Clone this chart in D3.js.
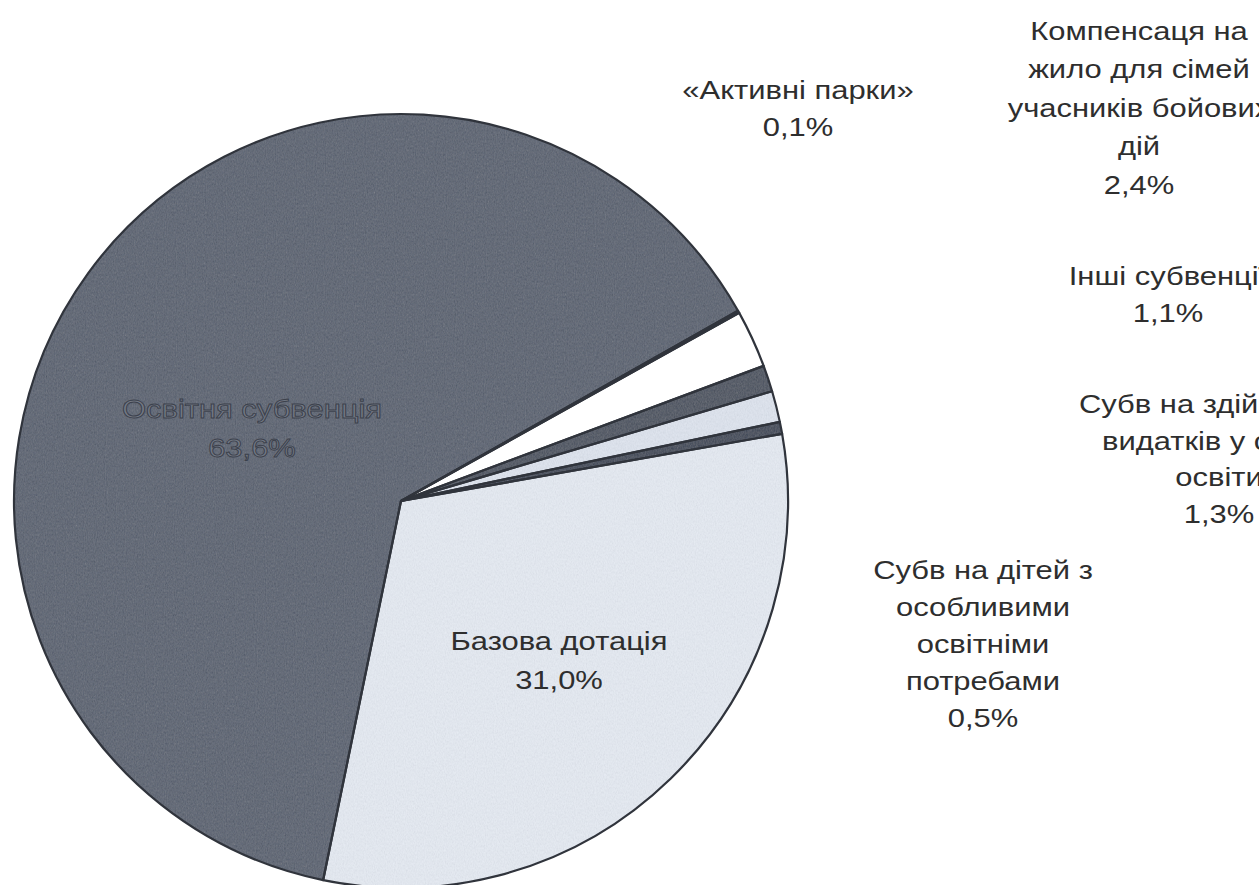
<!DOCTYPE html>
<html>
<head>
<meta charset="utf-8">
<script src="https://cdn.jsdelivr.net/npm/d3@7"></script>
<style>
	html, body { margin: 0; background: #fff; overflow: hidden }
	svg { display: block; font-family: "Liberation Sans", Arial, sans-serif }
</style>
</head>
<body>
<svg id="chart" width="1259" height="885">
	<defs>
		<filter id="grain" x="0" y="0" width="1" height="1">
			<feTurbulence type="fractalNoise" baseFrequency="0.9 0.45" numOctaves="2" seed="3" result="noise"/>
			<feColorMatrix in="noise" type="saturate" values="0" result="grey"/>
			<feComposite in="grey" in2="SourceGraphic" operator="arithmetic" k1="0" k2="0.22" k3="0.93" k4="-0.08" result="mix"/>
			<feComposite in="mix" in2="SourceAlpha" operator="in"/>
		</filter>
	</defs>
</svg>
<script>
// data, in the order the slices run clockwise
const categories = [
	'Базова дотація',
	'Освітня субвенція',
	'«Активні парки»',
	'Компенсаця на жило для сімей учасників бойових дій',
	'Інші субвенції',
	'Субв на здійснення видатків у сфері освіти',
	'Субв на дітей з особливими освітніми потребами'
]
const shares = [31.0, 63.6, 0.1, 2.4, 1.1, 1.3, 0.5]
const labelLines = [
	['Базова дотація'],
	['Освітня субвенція'],
	['«Активні парки»'],
	['Компенсаця на', 'жило для сімей', 'учасників бойових', 'дій'],
	['Інші субвенції'],
	['Субв на здійснення', 'видатків у сфері', 'освіти'],
	['Субв на дітей з', 'особливими', 'освітніми', 'потребами']
]

const sliceColors = ['#e6ebf3', '#6a707c', '#4f545e', '#ffffff', '#60656f', '#dfe5ef', '#595e69']
// label anchor (centre x, first baseline y, line step)
const labelPos = [
	[559, 650, 39], [252, 418, 39], [798, 99, 37], [1139, 40, 38.5],
	[1168, 285, 37], [1219, 413, 36.7], [983, 579, 37]
]

const pct = v => d3.format('.1f')(v).replace('.', ',') + '%'

class PieChart
{
	constructor(svgEl, {cx, cy, radius, startDeg})
	{
		this.svg = d3.select(svgEl)
		this.cx = cx
		this.cy = cy
		this.radius = radius
		this.start = startDeg * Math.PI / 180
	}

	draw() {
		const pie = d3.pie().sort(null).value(d => d.value)
			.startAngle(this.start).endAngle(this.start + 2 * Math.PI)
		const arc = d3.arc().innerRadius(0).outerRadius(this.radius)
		const rows = categories.map((c, i) => ({name: c, value: shares[i], i}))

		const g = this.svg.append('g').attr('transform', `translate(${this.cx},${this.cy})`)
		g.selectAll('path.fill').data(pie(rows)).enter()
			.append('path')
			.attr('class', 'fill')
			.attr('d', arc)
			.attr('fill', d => sliceColors[d.data.i])
			.attr('filter', d => sliceColors[d.data.i] == '#ffffff' ? null : 'url(#grain)')
		// outlines drawn on top so the grain does not eat them
		g.selectAll('path.edge').data(pie(rows)).enter()
			.append('path')
			.attr('class', 'edge')
			.attr('d', arc)
			.attr('fill', 'none')
			.attr('stroke', '#30343c')
			.attr('stroke-width', 2.2)
			.attr('stroke-linejoin', 'round')

		const labels = this.svg.append('g').attr('font-size', 26).attr('text-anchor', 'middle')
		rows.forEach(r => {
			const [x, y, step] = labelPos[r.i]
			const lines = labelLines[r.i].concat(pct(r.value))
			const inDark = r.i == 1
			const t = labels.append('text')
				.attr('transform', `translate(${x},${y}) scale(1.19,1)`)
				.attr('fill', inDark ? '#737985' : '#2e2e2e')
				.attr('stroke', inDark ? '#3c414c' : 'none')
				.attr('stroke-width', inDark ? 0.9 : 0)
			lines.forEach((ln, k) => t.append('tspan').attr('x', 0).attr('y', k * step).text(ln))
		})
	}
}

new PieChart(document.getElementById('chart'), {cx: 401, cy: 501, radius: 387, startDeg: 80}).draw()
</script>
</body>
</html>
